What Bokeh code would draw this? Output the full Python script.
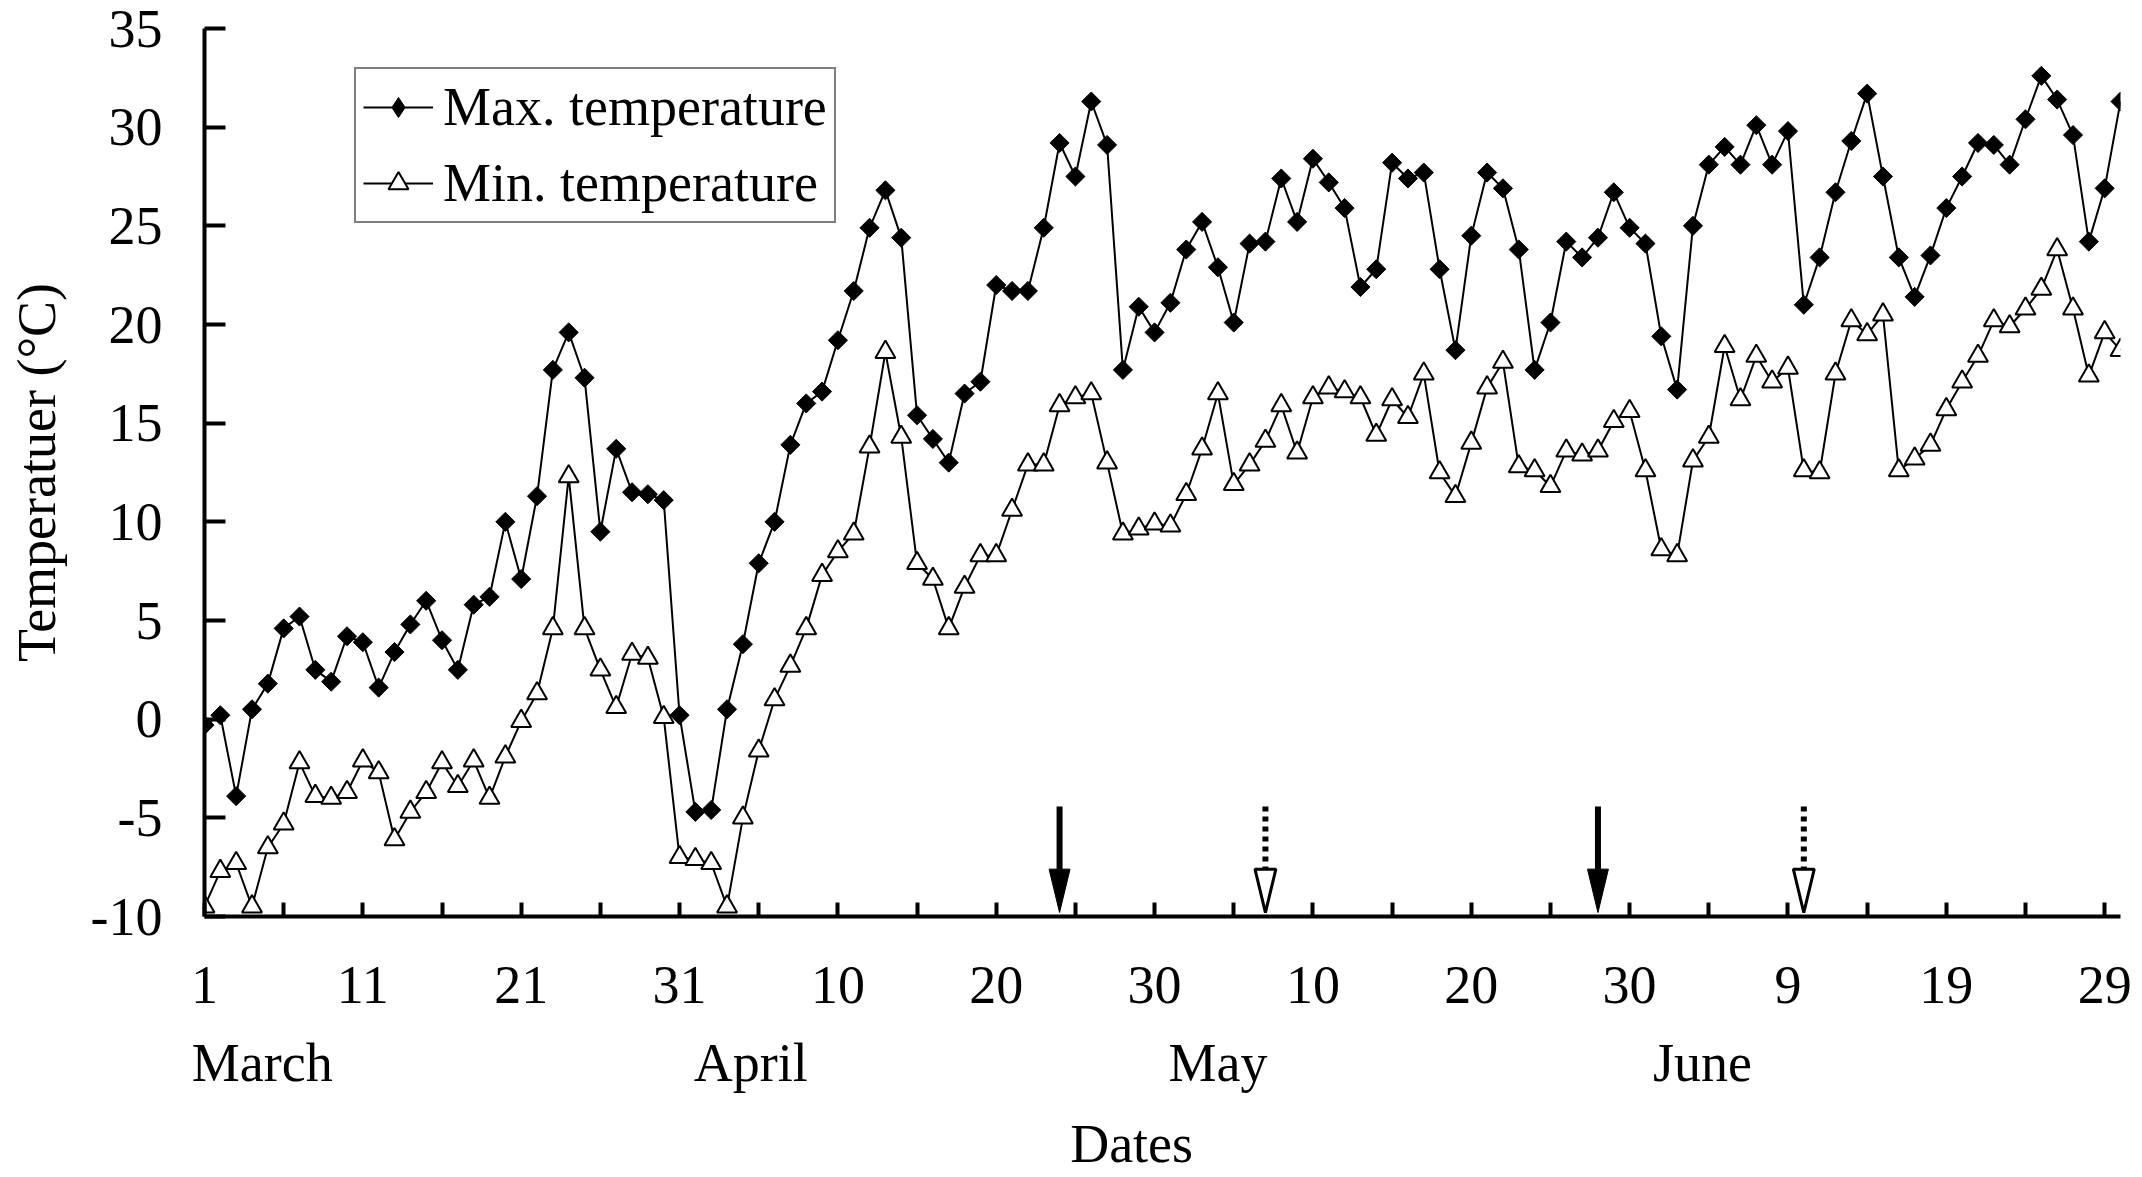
import math
from bokeh.plotting import figure
from bokeh.models import (Range1d, FixedTicker, Legend, LegendItem,
                          ColumnDataSource, LinearAxis)
from bokeh.embed import file_html
from bokeh.resources import INLINE

# ---------------- data ----------------
# day index 0 = 1 March ... 121 = 30 June
days = list(range(122))
max_temp = [-0.3, 0.2, -3.9, 0.5, 1.8, 4.6, 5.2, 2.5, 1.9, 4.2,
            3.9, 1.6, 3.4, 4.8, 6.0, 4.0, 2.5, 5.8, 6.2, 10.0,
            7.1, 11.3, 17.7, 19.6, 17.3, 9.5, 13.7, 11.5, 11.4, 11.1,
            0.2, -4.7, -4.6, 0.5, 3.8, 7.9, 10.0, 13.9, 16.0, 16.6,
            19.2, 21.7, 24.9, 26.8, 24.4, 15.4, 14.2, 13.0, 16.5, 17.1,
            22.0, 21.7, 21.7, 24.9, 29.2, 27.5, 31.3, 29.1, 17.7, 20.9,
            19.6, 21.1, 23.8, 25.2, 22.9, 20.1, 24.1, 24.2, 27.4, 25.2,
            28.4, 27.2, 25.9, 21.9, 22.8, 28.2, 27.4, 27.7, 22.8, 18.7,
            24.5, 27.7, 26.9, 23.8, 17.7, 20.1, 24.2, 23.4, 24.4, 26.7,
            24.9, 24.1, 19.4, 16.7, 25.0, 28.1, 29.0, 28.1, 30.1, 28.1,
            29.8, 21.0, 23.4, 26.7, 29.3, 31.7, 27.5, 23.4, 21.4, 23.5,
            25.9, 27.5, 29.2, 29.1, 28.1, 30.4, 32.6, 31.4, 29.6, 24.2,
            26.9, 31.3]
min_temp = [-9.5, -7.7, -7.3, -9.5, -6.5, -5.3, -2.2, -3.9, -4.0, -3.7,
            -2.1, -2.7, -6.1, -4.7, -3.7, -2.2, -3.4, -2.1, -4.0, -1.9,
            -0.1, 1.3, 4.6, 12.3, 4.6, 2.5, 0.6, 3.3, 3.1, 0.1,
            -7.0, -7.1, -7.3, -9.5, -5.0, -1.6, 1.0, 2.7, 4.6, 7.3,
            8.5, 9.4, 13.8, 18.6, 14.3, 7.9, 7.1, 4.6, 6.7, 8.3,
            8.3, 10.6, 12.9, 12.9, 15.9, 16.3, 16.5, 13.0, 9.4, 9.65,
            9.9, 9.8, 11.4, 13.7, 16.5, 11.9, 12.9, 14.1, 15.9, 13.5,
            16.3, 16.8, 16.6, 16.3, 14.4, 16.2, 15.3, 17.5, 12.5, 11.3,
            14.0, 16.8, 18.1, 12.8, 12.6, 11.8, 13.6, 13.4, 13.6, 15.1,
            15.6, 12.6, 8.6, 8.3, 13.1, 14.3, 18.9, 16.2, 18.4, 17.1,
            17.8, 12.6, 12.5, 17.5, 20.2, 19.5, 20.5, 12.6, 13.2, 13.9,
            15.7, 17.1, 18.4, 20.2, 19.9, 20.8, 21.8, 23.8, 20.8, 17.4,
            19.6, 18.7]

x_ticks = list(range(0, 121, 5))
x_tick_labels = ["1", "11", "21", "31", "10", "20", "30",
                 "10", "20", "30", "9", "19", "29"]
y_ticks = list(range(-10, 36, 5))
months = ["March", "April", "May", "June"]
month_day = [3.65, 34.5, 64.0, 94.6]
solid_arrow_days = [54, 88]
dotted_arrow_days = [67, 101]

# ---------------- style constants ----------------
FONT = "Liberation Serif"
FS = "54px"
ARROW_TOP, HEAD_TOP, HEAD_TIP, HEAD_HALF = -4.42, -7.6, -9.8, 0.66

p = figure(width=2132, height=1176, output_backend="svg", toolbar_location=None,
           x_range=Range1d(0, 121), y_range=Range1d(-10, 35),
           min_border_left=204, min_border_right=12,
           min_border_top=28, min_border_bottom=258)
p.outline_line_color = None
p.xgrid.visible = False
p.ygrid.visible = False
p.background_fill_color = "white"
p.border_fill_color = "white"


def style_axis(ax):
    ax.axis_line_width = 4
    ax.axis_line_color = "black"
    ax.major_tick_line_width = 4
    ax.major_tick_line_color = "black"
    ax.major_tick_out = 0
    ax.minor_tick_out = 0
    ax.minor_tick_in = 0
    ax.minor_tick_line_color = None
    ax.major_label_text_font = FONT
    ax.major_label_text_font_size = FS
    ax.major_label_text_color = "black"


xa = p.xaxis[0]
ya = p.yaxis[0]
style_axis(xa)
style_axis(ya)

xa.ticker = FixedTicker(ticks=x_ticks)
xa.major_label_overrides = {t: (x_tick_labels[t // 10] if t % 10 == 0 else "")
                            for t in x_ticks}
xa.major_tick_in = 14
xa.major_label_standoff = 50

ya.ticker = FixedTicker(ticks=y_ticks)
ya.major_label_overrides = {t: str(t) for t in y_ticks}
ya.major_tick_in = 21
ya.major_label_standoff = 42
ya.axis_label = "Temperatuer (°C)"
ya.axis_label_text_font = FONT
ya.axis_label_text_font_size = FS
ya.axis_label_text_font_style = "normal"
ya.axis_label_text_color = "black"
ya.axis_label_standoff = 21


def text_axis(ticks, labels, standoff):
    ax = LinearAxis(ticker=FixedTicker(ticks=ticks),
                    major_label_overrides=dict(zip(ticks, labels)))
    style_axis(ax)
    ax.axis_line_color = None
    ax.major_tick_line_color = None
    ax.major_tick_in = 0
    ax.major_label_standoff = standoff
    p.add_layout(ax, "below")
    return ax


month_axis = text_axis(month_day, months, 27)
title_axis = text_axis([58.55], ["Dates"], 18)

# series
src = ColumnDataSource(dict(d=days, mx=max_temp, mn=min_temp))
max_line = p.line("d", "mx", source=src, line_color="black", line_width=2)
p.scatter("d", "mx", source=src, marker="square", angle=math.pi / 4, size=13.5,
          fill_color="black", line_color="black", line_width=1)
min_line = p.line("d", "mn", source=src, line_color="black", line_width=2)
min_mark = p.scatter("d", "mn", source=src, marker="triangle", size=20,
                     fill_color="white", line_color="black", line_width=2)

# legend-only diamond glyph (no visible data point)
leg_src = ColumnDataSource(dict(x=[float("nan")], y=[float("nan")]))
max_leg = p.scatter("x", "y", source=leg_src, marker="diamond", size=20,
                    fill_color="black", line_color="black")

legend = Legend(items=[
    LegendItem(label="Max. temperature", renderers=[max_line, max_leg]),
    LegendItem(label="Min. temperature", renderers=[min_line, min_mark]),
], location=(150, 693))
legend.margin = 0
legend.padding = 7
legend.spacing = 14
legend.glyph_width = 70
legend.glyph_height = 50
legend.label_standoff = 10
legend.label_text_font = FONT
legend.label_text_font_size = FS
legend.label_text_color = "black"
legend.border_line_color = "black"
legend.border_line_width = 2
legend.background_fill_color = "white"
legend.background_fill_alpha = 1.0
p.add_layout(legend)

# arrows
sa = ColumnDataSource(dict(
    x=solid_arrow_days,
    y0=[ARROW_TOP] * len(solid_arrow_days), y1=[HEAD_TOP] * len(solid_arrow_days),
    xs=[[d - HEAD_HALF, d + HEAD_HALF, d] for d in solid_arrow_days],
    ys=[[HEAD_TOP, HEAD_TOP, HEAD_TIP] for _ in solid_arrow_days]))
p.segment(x0="x", y0="y0", x1="x", y1="y1", source=sa, line_color="black",
          line_width=6)
p.patches("xs", "ys", source=sa, fill_color="black", line_color="black",
          line_width=1)

da = ColumnDataSource(dict(
    x=dotted_arrow_days,
    y0=[ARROW_TOP] * len(dotted_arrow_days), y1=[HEAD_TOP] * len(dotted_arrow_days),
    xs=[[d - HEAD_HALF, d + HEAD_HALF, d] for d in dotted_arrow_days],
    ys=[[HEAD_TOP, HEAD_TOP, HEAD_TIP] for _ in dotted_arrow_days]))
p.segment(x0="x", y0="y0", x1="x", y1="y1", source=da, line_color="black",
          line_width=6, line_dash="5 5")
p.patches("xs", "ys", source=da, fill_color="white", line_color="black",
          line_width=3)

open("out.html", "w").write(file_html(p, INLINE))
